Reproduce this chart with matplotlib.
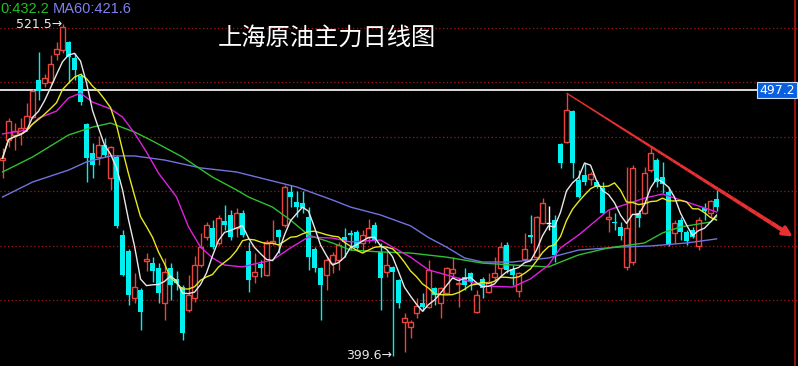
import numpy as np
import pandas as pd
import matplotlib
matplotlib.use('Agg')
import matplotlib.pyplot as plt
from matplotlib.collections import LineCollection

# Daily OHLC (candle index 0..119)
opens = [471.5, 478.9, 480.7, 481.4, 483.3, 487.3, 500.9, 499.8, 500.2, 510.5,
         511.9, 514.9, 509.0, 502.4, 484.7, 474.1, 472.6, 477.0, 464.9, 472.6,
         443.9, 438.1, 420.8, 423.7, 434.4, 433.6, 431.8, 418.9, 431.8, 427.8,
         424.8, 416.4, 420.8, 432.9, 443.2, 446.5, 441.0, 449.1, 451.3, 446.5,
         452.0, 438.1, 428.9, 433.3, 429.2, 441.0, 445.8, 447.6, 459.7, 456.1,
         455.7, 450.6, 438.8, 431.8, 429.2, 433.6, 434.7, 443.2, 444.7, 445.0,
         441.0, 443.2, 447.6, 437.7, 430.3, 432.2, 427.4, 411.9, 410.1, 415.3,
         418.9, 417.5, 424.5, 418.9, 422.6, 430.0, 425.9, 428.5, 430.0, 415.6,
         427.8, 423.0, 428.5, 431.8, 440.3, 431.4, 423.3, 435.1, 443.9, 435.8,
         448.3, 448.3, 449.5, 477.4, 478.1, 489.5, 464.2, 466.0, 464.5, 463.4,
         461.2, 449.8, 448.7, 446.9, 432.2, 434.0, 452.0, 452.0, 467.8, 471.5,
         465.3, 459.7, 444.7, 449.5, 445.0, 445.8, 439.9, 453.9, 452.0, 457.2]
highs = [475.9, 486.9, 485.1, 486.9, 492.5, 497.6, 511.2, 503.1, 510.1, 514.9,
         521.5, 515.3, 510.8, 503.5, 485.1, 477.8, 480.3, 479.6, 476.7, 473.3,
         445.8, 438.8, 430.0, 424.5, 437.3, 435.8, 433.6, 435.5, 433.6, 430.7,
         425.6, 429.2, 436.2, 444.7, 448.7, 449.5, 451.3, 455.0, 453.1, 453.9,
         453.1, 441.4, 437.3, 434.7, 442.1, 449.5, 446.1, 462.3, 462.3, 460.1,
         460.1, 454.2, 439.5, 432.2, 435.8, 437.7, 441.4, 446.5, 445.8, 445.8,
         445.8, 449.8, 448.7, 441.0, 437.7, 432.4, 427.8, 415.3, 412.7, 420.8,
         422.6, 434.7, 424.8, 424.8, 432.2, 435.8, 428.5, 431.8, 430.3, 423.7,
         428.5, 430.0, 435.8, 441.4, 441.4, 432.9, 430.3, 444.7, 451.3, 450.9,
         457.5, 454.6, 451.3, 477.8, 496.1, 489.9, 467.8, 470.4, 467.1, 464.2,
         463.4, 453.1, 452.0, 448.7, 468.9, 469.7, 453.1, 468.9, 476.7, 472.2,
         470.8, 461.6, 449.5, 450.6, 445.8, 446.9, 450.6, 455.7, 456.8, 460.5]
lows = [464.9, 476.3, 475.2, 477.0, 482.2, 486.9, 493.6, 498.3, 499.5, 508.3,
        510.8, 499.8, 500.9, 491.7, 463.4, 464.9, 469.7, 472.6, 460.5, 446.5,
        428.9, 418.2, 418.9, 409.0, 430.7, 426.7, 418.9, 412.7, 420.0, 423.7,
        405.3, 415.6, 419.3, 432.2, 442.1, 438.8, 440.3, 445.8, 442.1, 443.2,
        443.2, 423.0, 426.3, 428.5, 428.9, 440.3, 437.3, 446.9, 454.2, 450.6,
        452.0, 431.1, 430.3, 412.7, 423.7, 430.0, 431.1, 435.8, 438.4, 438.4,
        437.3, 441.0, 441.0, 416.4, 428.5, 399.6, 417.1, 400.9, 406.1, 413.4,
        416.0, 417.1, 418.2, 413.4, 422.2, 428.5, 417.5, 423.7, 423.7, 415.3,
        420.8, 422.6, 427.4, 428.5, 430.0, 425.6, 421.1, 434.0, 441.0, 435.5,
        448.0, 445.8, 434.0, 468.6, 477.8, 464.9, 457.5, 462.3, 462.3, 461.2,
        451.6, 445.0, 445.8, 442.1, 431.1, 432.9, 446.9, 451.6, 467.1, 461.6,
        459.4, 439.9, 441.0, 442.1, 440.3, 442.8, 438.4, 449.5, 450.6, 452.8]
closes = [472.2, 485.8, 482.2, 483.3, 487.7, 496.9, 496.9, 501.7, 506.8, 512.3,
          520.4, 509.4, 504.6, 492.8, 472.2, 469.7, 477.0, 473.3, 476.3, 447.2,
          429.2, 421.9, 424.8, 415.6, 435.1, 430.7, 422.6, 430.3, 425.6, 426.3,
          407.9, 421.9, 432.9, 439.5, 447.6, 439.5, 450.2, 447.6, 443.2, 452.0,
          443.9, 427.4, 430.3, 431.8, 441.4, 441.7, 443.2, 461.6, 457.9, 454.2,
          453.9, 435.8, 431.8, 425.6, 434.7, 436.6, 440.3, 441.4, 443.9, 439.2,
          443.9, 446.5, 442.1, 428.1, 432.9, 430.3, 418.9, 413.4, 411.9, 417.8,
          417.5, 431.1, 421.9, 424.5, 431.8, 431.4, 426.3, 425.6, 426.7, 421.9,
          424.5, 426.7, 430.0, 439.5, 431.1, 429.2, 430.0, 438.8, 443.2, 450.6,
          455.7, 448.3, 436.6, 470.4, 489.9, 470.4, 457.9, 463.4, 466.4, 461.6,
          452.0, 450.6, 448.3, 443.6, 446.5, 468.6, 450.2, 466.7, 474.1, 463.4,
          462.7, 440.6, 448.3, 445.0, 441.7, 443.2, 449.5, 452.8, 456.4, 454.2]

# Longer moving averages as (candle index, value)
ma20_idx = [0, 4, 6, 9, 11, 13, 15, 18, 20, 22, 24, 26, 29, 31, 33, 35, 37, 40, 42,
            45, 48, 51, 55, 58, 63, 65, 68, 71, 77, 80, 85, 88, 91, 93, 96, 101,
            107, 110, 113, 117, 119]
ma20_val = [481.1, 482.5, 486.9, 489.5, 494.3, 496.1, 492.8, 490.3, 487.3, 481.4,
            474.4, 466.7, 457.9, 446.9, 439.5, 435.5, 432.9, 432.2, 433.3, 434.7,
            439.2, 443.2, 442.8, 441.4, 442.1, 439.5, 435.8, 431.1, 427.4, 425.2,
            424.8, 427.8, 432.9, 439.2, 443.9, 453.1, 457.5, 459.0, 456.8, 453.9,
            452.4]
ma40_idx = [0, 5, 11, 15, 18, 22, 25, 30, 35, 39, 41, 45, 48, 51, 55, 58, 63, 68,
            74, 80, 85, 91, 93, 96, 101, 107, 110, 113, 118, 119]
ma40_val = [467.1, 472.6, 480.7, 483.6, 485.1, 481.8, 478.5, 472.6, 465.2, 460.5,
            457.9, 454.2, 449.4, 443.9, 441.0, 438.4, 437.7, 437.3, 435.8, 433.6,
            432.9, 432.2, 434.0, 436.6, 439.2, 441.0, 444.7, 446.9, 448.7, 450.6]
ma60_idx = [0, 5, 11, 14, 18, 22, 27, 33, 39, 43, 49, 55, 58, 63, 68, 71, 74, 77,
            80, 85, 91, 96, 103, 108, 114, 119]
ma60_val = [457.9, 463.4, 467.8, 470.8, 473.0, 473.0, 471.5, 468.6, 467.1, 464.9,
            461.6, 456.8, 454.2, 451.3, 447.3, 443.0, 439.5, 435.5, 434.0, 434.0,
            435.5, 438.4, 439.5, 439.9, 441.0, 442.5]

grid_levels = [420, 440, 460, 480, 500, 520]
ref_level = 497.2
trend_start = 94                      # candle whose high starts the trend line
trend_end_idx, trend_end_val = 132.1, 442.8
title = '上海原油主力日线图'

o = np.array(opens); h = np.array(highs); l = np.array(lows); c = np.array(closes)
idx = np.arange(len(c))
ma5 = pd.Series(c).rolling(5, min_periods=1).mean()
ma10 = pd.Series(c).rolling(10, min_periods=1).mean()

RED, CYAN = '#e8453c', '#00f0f0'

fig = plt.figure(figsize=(7.98, 3.66), dpi=100, facecolor='black')
ax = fig.add_axes([0, 0, 1, 1], facecolor='black')
ax.set_xlim(-0.417, 132.58)
ax.set_ylim(395.77, 530.33)
ax.axis('off')

for g in grid_levels:
    ax.axhline(g, color='#a01818', lw=0.9, ls=(0, (1, 2)), zorder=1)
ax.axhline(ref_level, xmax=0.953, color='white', lw=1.2, zorder=2)
ax.axvline(132.05, color='#b01818', lw=1.2, zorder=2)

up = c > o
down = c < o
flat = c == o
w = 0.74
ax.vlines(idx[up], l[up], h[up], color=RED, lw=1, zorder=3)
ax.vlines(idx[down], l[down], h[down], color=CYAN, lw=1, zorder=3)
ax.vlines(idx[flat], l[flat], h[flat], color='white', lw=1, zorder=3)
ax.bar(idx[up], (c - o)[up], w, bottom=o[up], facecolor='black',
       edgecolor=RED, lw=1, zorder=4)
ax.bar(idx[down], np.maximum((o - c)[down], 0.25), w, bottom=c[down],
       color=CYAN, lw=0, zorder=4)
ax.hlines(c[flat], idx[flat] - w / 2, idx[flat] + w / 2, color='white', lw=1, zorder=4)

ax.plot(ma60_idx, ma60_val, color='#7272e0', lw=1, zorder=5)
ax.plot(ma40_idx, ma40_val, color='#30c030', lw=1, zorder=5)
ax.plot(ma20_idx, ma20_val, color='#e020e0', lw=1, zorder=5)
ax.plot(idx, ma10, color='#e8e820', lw=1, zorder=5)
ax.plot(idx, ma5, color='#e8e8e8', lw=1, zorder=5)

# trend line, thin at the top and getting thicker toward the arrow
tx = np.linspace(trend_start, trend_end_idx - 1.5, 30)
ty = np.interp(tx, [trend_start, trend_end_idx], [h[trend_start], trend_end_val])
segs = np.stack([np.c_[tx[:-1], ty[:-1]], np.c_[tx[1:], ty[1:]]], axis=1)
ax.add_collection(LineCollection(segs, colors='#e83030',
                                 linewidths=np.linspace(1, 3, len(segs)), zorder=6))
ax.annotate('', xy=(trend_end_idx, trend_end_val), xytext=(tx[-3], ty[-3]),
            arrowprops=dict(arrowstyle='-|>', color='#e83030', lw=2.5,
                            mutation_scale=14), zorder=6)

hi, lo = int(np.argmax(h)), int(np.argmin(l))
ax.text(hi - 0.1, h[hi], f'{h[hi]:.1f}\u2192', color='#e8e8e8', fontsize=9,
        ha='right', va='center', zorder=7)
ax.text(lo - 0.1, l[lo], f'{l[lo]:.1f}\u2192', color='#e8e8e8', fontsize=9,
        ha='right', va='center', zorder=7)

ax.text(0.996, ref_level, f'{ref_level:.1f}', color='white', fontsize=9,
        ha='right', va='center', transform=ax.get_yaxis_transform(), zorder=8,
        bbox=dict(boxstyle='square,pad=0.15', fc='#0a5fe0', ec='#cfe0ff', lw=0.8))

ax.text(0.0, 0.975, '0:432.2', color='#20c020', fontsize=10.5,
        family='Liberation Sans', ha='left', va='center', transform=ax.transAxes)
ax.text(0.066, 0.975, 'MA60:421.6', color='#8080f0', fontsize=10.5,
        family='Liberation Sans', ha='left', va='center', transform=ax.transAxes)
ax.text(0.273, 0.897, title, color='white', fontsize=17.5,
        family=['Noto Sans CJK SC', 'DejaVu Sans'], ha='left', va='center',
        transform=ax.transAxes)

fig.savefig('out.png', dpi=100, facecolor='black')
